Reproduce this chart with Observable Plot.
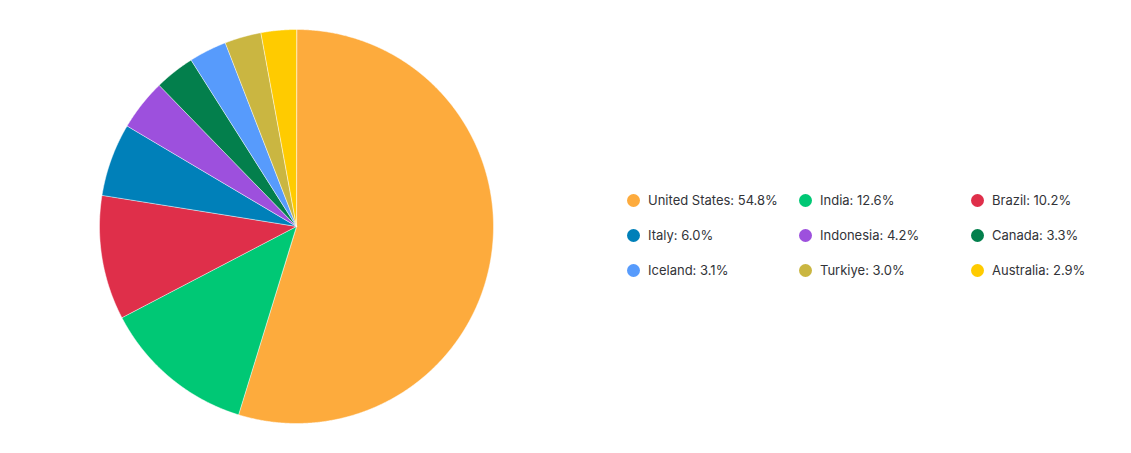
<!DOCTYPE html>
<html>
<head>
<meta charset="utf-8">
<script src="https://cdn.jsdelivr.net/npm/d3@7"></script>
<script src="https://cdn.jsdelivr.net/npm/@observablehq/plot@0.6"></script>
<style>
  body { margin: 0; background: #fff; font-family: Inter, "Noto Sans", sans-serif; }
  #wrap { position: relative; width: 1131px; height: 453px; }
  #legend { position: absolute; left: 0; top: 0; width: 1131px; height: 453px; pointer-events: none; }
  .item { position: absolute; display: flex; align-items: center; font-size: 13px; color: #323338; white-space: nowrap; }
  .sw { width: 13px; height: 13px; border-radius: 50%; margin-right: 8px; }
</style>
</head>
<body>
<div id="wrap"><div id="legend"></div></div>
<script>
// Share of total by country (percent)
const countries = ["United States", "India", "Brazil", "Italy", "Indonesia", "Canada", "Iceland", "Turkiye", "Australia"];
const shares = [54.8, 12.6, 10.2, 6.0, 4.2, 3.3, 3.1, 3.0, 2.9];
const colors = ["#fdab3d", "#00c875", "#df2f4a", "#0080b9", "#9d50dd", "#037f4c", "#579bfc", "#cab641", "#ffcb00"];

// Slice outlines in unit-circle coordinates, clockwise from 12 o'clock
const arcs = d3.pie().sort(null).value((d, i) => shares[i])(countries);
const outline = arcs.flatMap((a, i) => {
  const name = countries[i];
  const n = Math.max(2, Math.ceil((a.endAngle - a.startAngle) / 0.005));
  const pts = [{name, x: 0, y: 0}];
  for (let k = 0; k <= n; k++) {
    const t = a.startAngle + (a.endAngle - a.startAngle) * k / n;
    pts.push({name, x: Math.sin(t), y: Math.cos(t)});
  }
  return pts;
});

const chart = Plot.plot({
  width: 1131,
  height: 453,
  marginLeft: 99,
  marginRight: 638,
  marginTop: 29,
  marginBottom: 30,
  x: {domain: [-1, 1], axis: null},
  y: {domain: [-1, 1], axis: null},
  color: {domain: countries, range: colors},
  marks: [
    Plot.line(outline, {
      x: "x", y: "y", z: "name",
      fill: "name", stroke: "white", strokeWidth: 0.5,
      curve: "linear-closed"
    })
  ]
});
document.getElementById("wrap").prepend(chart);

// Legend: three columns, three rows
const legend = document.getElementById("legend");
const colX = [627, 799, 971];
const rowY = [200, 235, 270];
countries.forEach((c, i) => {
  const el = document.createElement("div");
  el.className = "item";
  el.style.left = colX[i % 3] + "px";
  el.style.top = (rowY[Math.floor(i / 3)] - 8) + "px";
  el.style.height = "16px";
  el.innerHTML = `<span class="sw" style="background:${colors[i]}"></span><span>${c}: ${shares[i].toFixed(1)}%</span>`;
  legend.appendChild(el);
});
</script>
</body>
</html>
